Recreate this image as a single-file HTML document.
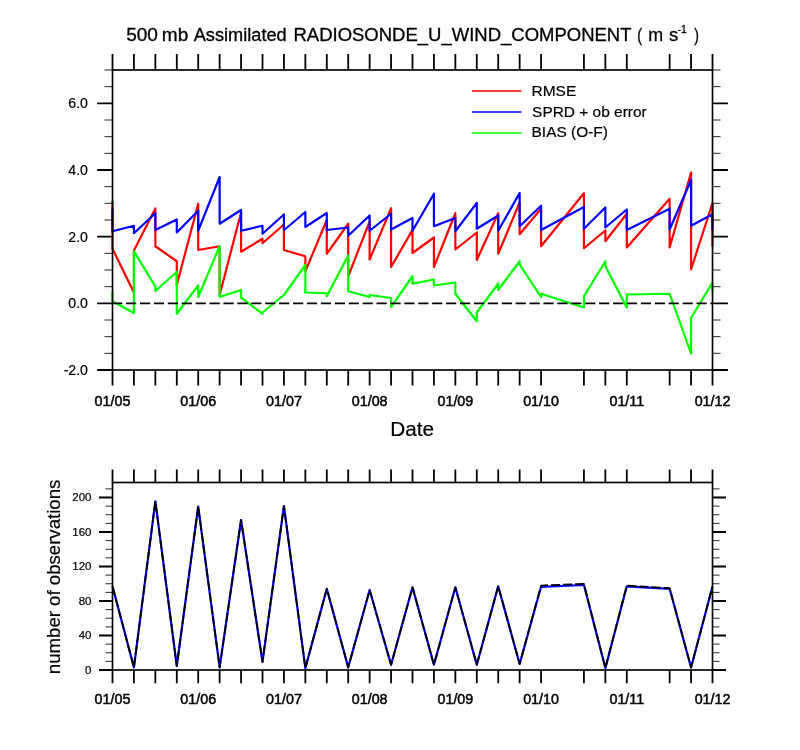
<!DOCTYPE html>
<html lang="en"><head><meta charset="utf-8"><title>500 mb Assimilated RADIOSONDE_U_WIND_COMPONENT</title>
<style>
html,body{margin:0;padding:0;background:#fff;}
body{width:800px;height:750px;overflow:hidden;}
svg{display:block;}
text{font-family:"Liberation Sans",sans-serif;fill:#000;}
.ax{stroke:#000;stroke-width:1.65;fill:none;stroke-linecap:butt;}
.mj{stroke:#000;stroke-width:1.8;fill:none;stroke-linecap:butt;}
.mn{stroke:#000;stroke-width:0.85;fill:none;}
.d{fill:none;stroke-width:2.2;stroke-linejoin:round;stroke-linecap:butt;}
.xl{stroke:#000;stroke-width:0.5px;}
.tt{stroke:#000;stroke-width:0.3px;}
.ts{stroke:#000;stroke-width:0.2px;}
</style></head><body>
<svg width="800" height="750" viewBox="0 0 800 750">
<rect x="0" y="0" width="800" height="750" fill="#fff"/>
<text class="tt" transform="translate(126.14 41.10) scale(1.0208 1)" font-size="18.70">500</text>
<text class="tt" transform="translate(161.81 41.10) scale(1.0194 1)" font-size="18.70">mb</text>
<text class="tt" transform="translate(193.70 41.10) scale(0.9731 1)" font-size="18.70">Assimilated</text>
<text class="tt" transform="translate(293.47 41.10) scale(0.9893 1)" font-size="18.70">RADIOSONDE_U_WIND_COMPONENT</text>
<text class="tt" transform="translate(637.20 41.10) scale(0.7741 1)" font-size="18.70">(</text>
<text class="tt" transform="translate(648.19 41.10) scale(0.9549 1)" font-size="18.70">m</text>
<text class="tt" transform="translate(668.89 41.10) scale(0.9901 1)" font-size="18.70">s</text>
<text class="tt" transform="translate(694.29 41.10) scale(0.7538 1)" font-size="18.70">)</text>
<text class="tt" transform="translate(677.53 32.50) scale(0.8848 1)" font-size="11.80">-1</text>
<clipPath id="c1"><rect x="110.50" y="70.00" width="604.00" height="300.00"/></clipPath>
<g clip-path="url(#c1)">
<polyline class="d" stroke="#ff0000" points="112.50,201.25 112.50,248.75 133.93,292.50 133.93,250.50 155.36,208.50 155.36,246.25 176.79,261.25 176.79,285.00 198.21,203.75 198.21,250.00 219.64,246.25 219.64,295.00 241.07,212.50 241.07,251.75 262.50,238.75 262.50,243.25 283.93,224.50 283.93,250.00 305.36,256.25 305.36,271.25 326.79,220.00 326.79,253.75 348.21,223.75 348.21,276.25 369.64,221.50 369.64,259.50 391.07,208.25 391.07,267.00 412.50,230.00 412.50,253.00 433.93,237.50 433.93,267.00 455.36,213.25 455.36,249.50 476.79,232.50 476.79,260.00 498.21,213.25 498.21,253.75 519.64,202.50 519.64,234.25 541.07,208.75 541.07,246.25 583.93,193.25 583.93,248.25 605.36,230.50 605.36,241.25 626.79,213.75 626.79,247.50 669.64,198.75 669.64,247.50 691.07,172.60 691.07,269.50 712.50,203.00 712.50,246.25"/>
<polyline class="d" stroke="#0000ff" points="112.50,208.75 112.50,231.25 133.93,225.75 133.93,233.25 155.36,213.25 155.36,230.00 176.79,219.50 176.79,232.50 198.21,210.75 198.21,230.75 219.64,177.00 219.64,223.75 241.07,210.00 241.07,230.75 262.50,225.75 262.50,233.75 283.93,214.50 283.93,230.25 305.36,212.00 305.36,227.00 326.79,213.00 326.79,230.00 348.21,227.50 348.21,235.75 369.64,215.50 369.64,230.75 391.07,213.75 391.07,229.50 412.50,218.00 412.50,230.75 433.93,193.75 433.93,226.25 455.36,218.00 455.36,231.25 476.79,203.00 476.79,228.75 498.21,215.50 498.21,230.75 519.64,193.00 519.64,226.25 541.07,205.75 541.07,230.00 583.93,207.00 583.93,228.75 605.36,207.50 605.36,227.50 626.79,209.50 626.79,230.00 669.64,208.75 669.64,229.50 691.07,180.00 691.07,225.75 712.50,214.25 712.50,230.00"/>
<polyline class="d" stroke="#00ff00" points="112.50,291.25 112.50,301.25 133.93,313.00 133.93,251.25 155.36,286.50 155.36,291.00 176.79,272.00 176.79,313.75 198.21,285.50 198.21,297.00 219.64,246.25 219.64,297.00 241.07,290.00 241.07,297.50 262.50,313.75 262.50,312.50 283.93,295.00 305.36,265.00 305.36,292.50 326.79,293.25 326.79,296.25 348.21,255.50 348.21,291.25 369.64,297.00 369.64,295.00 391.07,298.00 391.07,307.00 412.50,276.25 412.50,283.75 433.93,279.50 433.93,285.50 455.36,282.50 455.36,293.75 476.79,321.25 476.79,312.50 498.21,283.75 498.21,290.00 519.64,261.25 519.64,264.50 541.07,297.00 541.07,293.75 583.93,307.50 583.93,296.25 605.36,261.25 605.36,266.25 626.79,307.50 626.79,294.50 669.64,293.75 691.07,353.50 691.07,318.00 712.50,282.50 712.50,292.00"/>
</g>
<line x1="112.15" y1="303.33" x2="712.50" y2="303.33" stroke="#000" stroke-width="1.8" stroke-dasharray="10.2 3.713"/>
<rect class="ax" x="112.50" y="70.00" width="600.00" height="300.00"/>
<path class="mj" d="M112.50 70.00V54.00M112.50 370.00V385.50M133.93 70.00V54.00M133.93 370.00V385.50M155.36 70.00V54.00M155.36 370.00V385.50M176.79 70.00V54.00M176.79 370.00V385.50M198.21 70.00V54.00M198.21 370.00V385.50M219.64 70.00V54.00M219.64 370.00V385.50M241.07 70.00V54.00M241.07 370.00V385.50M262.50 70.00V54.00M262.50 370.00V385.50M283.93 70.00V54.00M283.93 370.00V385.50M305.36 70.00V54.00M305.36 370.00V385.50M326.79 70.00V54.00M326.79 370.00V385.50M348.21 70.00V54.00M348.21 370.00V385.50M369.64 70.00V54.00M369.64 370.00V385.50M391.07 70.00V54.00M391.07 370.00V385.50M412.50 70.00V54.00M412.50 370.00V385.50M433.93 70.00V54.00M433.93 370.00V385.50M455.36 70.00V54.00M455.36 370.00V385.50M476.79 70.00V54.00M476.79 370.00V385.50M498.21 70.00V54.00M498.21 370.00V385.50M519.64 70.00V54.00M519.64 370.00V385.50M541.07 70.00V54.00M541.07 370.00V385.50M583.93 70.00V54.00M583.93 370.00V385.50M605.36 70.00V54.00M605.36 370.00V385.50M626.79 70.00V54.00M626.79 370.00V385.50M669.64 70.00V54.00M669.64 370.00V385.50M691.07 70.00V54.00M691.07 370.00V385.50M712.50 70.00V54.00M712.50 370.00V385.50"/>
<path class="mj" d="M112.50 103.33H97.10M712.50 103.33H727.90M112.50 170.00H97.10M712.50 170.00H727.90M112.50 236.67H97.10M712.50 236.67H727.90M112.50 303.33H97.10M712.50 303.33H727.90M112.50 370.00H97.10M712.50 370.00H727.90"/>
<path class="mn" d="M112.50 70.00H104.50M712.50 70.00H720.50M112.50 86.67H104.50M712.50 86.67H720.50M112.50 120.00H104.50M712.50 120.00H720.50M112.50 136.67H104.50M712.50 136.67H720.50M112.50 153.33H104.50M712.50 153.33H720.50M112.50 186.67H104.50M712.50 186.67H720.50M112.50 203.33H104.50M712.50 203.33H720.50M112.50 220.00H104.50M712.50 220.00H720.50M112.50 253.33H104.50M712.50 253.33H720.50M112.50 270.00H104.50M712.50 270.00H720.50M112.50 286.67H104.50M712.50 286.67H720.50M112.50 320.00H104.50M712.50 320.00H720.50M112.50 336.67H104.50M712.50 336.67H720.50M112.50 353.33H104.50M712.50 353.33H720.50"/>
<text class="ts" x="68.33" y="108.43" font-size="14.10">6.0</text>
<text class="ts" x="68.33" y="175.10" font-size="14.10">4.0</text>
<text class="ts" x="68.33" y="241.77" font-size="14.10">2.0</text>
<text class="ts" x="68.33" y="308.43" font-size="14.10">0.0</text>
<text class="ts" x="63.64" y="375.10" font-size="14.10">-2.0</text>
<text class="xl" x="94.61" y="405.70" font-size="14.30">01/05</text>
<text class="xl" x="180.34" y="405.70" font-size="14.30">01/06</text>
<text class="xl" x="266.11" y="405.70" font-size="14.30">01/07</text>
<text class="xl" x="351.77" y="405.70" font-size="14.30">01/08</text>
<text class="xl" x="437.50" y="405.70" font-size="14.30">01/09</text>
<text class="xl" x="523.16" y="405.70" font-size="14.30">01/10</text>
<text class="xl" x="609.48" y="405.70" font-size="14.30">01/11</text>
<text class="xl" x="694.68" y="405.70" font-size="14.30">01/12</text>
<text class="ts" transform="translate(390.19 436.30) scale(1.0027 1)" font-size="20.70">Date</text>
<line x1="472" y1="91.0" x2="521.5" y2="91.0" stroke="#ff0000" stroke-width="1.5"/>
<text class="ts" x="531.52" y="96.20" font-size="15.50">RMSE</text>
<line x1="472" y1="112.0" x2="521.5" y2="112.0" stroke="#0000ff" stroke-width="1.5"/>
<text class="ts" transform="translate(532.10 117.40) scale(0.9967 1)" font-size="15.50">SPRD + ob error</text>
<line x1="472" y1="133.0" x2="521.5" y2="133.0" stroke="#00ff00" stroke-width="1.5"/>
<text class="ts" transform="translate(531.52 136.60) scale(0.9987 1)" font-size="15.50">BIAS (O-F)</text>
<polyline class="d" stroke="#0000ff" points="112.50,586.30 133.93,667.40 155.36,501.30 176.79,666.00 198.21,506.50 219.64,667.40 241.07,520.00 262.50,661.80 283.93,506.00 305.36,668.10 326.79,588.80 348.21,667.40 369.64,590.00 391.07,664.80 412.50,587.30 433.93,664.80 455.36,587.30 476.79,664.80 498.21,586.20 519.64,664.00 541.07,586.80 583.93,585.00 605.36,668.10 626.79,586.30 669.64,588.80 691.07,667.50 712.50,586.50"/>
<polyline class="d" stroke="#000" stroke-dasharray="9.2 2.9" style="stroke-width:1.75" points="112.50,586.30 133.93,667.40 155.36,501.30 176.79,666.00 198.21,506.50 219.64,667.40 241.07,520.00 262.50,661.80 283.93,506.00 305.36,668.10 326.79,588.80 348.21,667.40 369.64,590.00 391.07,664.80 412.50,587.30 433.93,664.80 455.36,587.30 476.79,664.80 498.21,586.20 519.64,664.00 541.07,585.50 583.93,583.90 605.36,668.10 626.79,585.60 669.64,588.20 691.07,667.50 712.50,586.50"/>
<rect class="ax" x="112.50" y="482.50" width="600.00" height="187.50"/>
<path class="mj" d="M112.50 482.50V469.50M112.50 670.00V683.30M133.93 482.50V469.50M133.93 670.00V683.30M155.36 482.50V469.50M155.36 670.00V683.30M176.79 482.50V469.50M176.79 670.00V683.30M198.21 482.50V469.50M198.21 670.00V683.30M219.64 482.50V469.50M219.64 670.00V683.30M241.07 482.50V469.50M241.07 670.00V683.30M262.50 482.50V469.50M262.50 670.00V683.30M283.93 482.50V469.50M283.93 670.00V683.30M305.36 482.50V469.50M305.36 670.00V683.30M326.79 482.50V469.50M326.79 670.00V683.30M348.21 482.50V469.50M348.21 670.00V683.30M369.64 482.50V469.50M369.64 670.00V683.30M391.07 482.50V469.50M391.07 670.00V683.30M412.50 482.50V469.50M412.50 670.00V683.30M433.93 482.50V469.50M433.93 670.00V683.30M455.36 482.50V469.50M455.36 670.00V683.30M476.79 482.50V469.50M476.79 670.00V683.30M498.21 482.50V469.50M498.21 670.00V683.30M519.64 482.50V469.50M519.64 670.00V683.30M541.07 482.50V469.50M541.07 670.00V683.30M583.93 482.50V469.50M583.93 670.00V683.30M605.36 482.50V469.50M605.36 670.00V683.30M626.79 482.50V469.50M626.79 670.00V683.30M669.64 482.50V469.50M669.64 670.00V683.30M691.07 482.50V469.50M691.07 670.00V683.30M712.50 482.50V469.50M712.50 670.00V683.30"/>
<path class="mj" d="M112.50 670.00H99.00M712.50 670.00H726.00M112.50 635.50H99.00M712.50 635.50H726.00M112.50 601.00H99.00M712.50 601.00H726.00M112.50 566.50H99.00M712.50 566.50H726.00M112.50 532.00H99.00M712.50 532.00H726.00M112.50 497.50H99.00M712.50 497.50H726.00"/>
<path class="mn" d="M112.50 661.38H105.50M712.50 661.38H719.50M112.50 652.75H105.50M712.50 652.75H719.50M112.50 644.12H105.50M712.50 644.12H719.50M112.50 626.88H105.50M712.50 626.88H719.50M112.50 618.25H105.50M712.50 618.25H719.50M112.50 609.62H105.50M712.50 609.62H719.50M112.50 592.38H105.50M712.50 592.38H719.50M112.50 583.75H105.50M712.50 583.75H719.50M112.50 575.12H105.50M712.50 575.12H719.50M112.50 557.88H105.50M712.50 557.88H719.50M112.50 549.25H105.50M712.50 549.25H719.50M112.50 540.62H105.50M712.50 540.62H719.50M112.50 523.38H105.50M712.50 523.38H719.50M112.50 514.75H105.50M712.50 514.75H719.50M112.50 506.12H105.50M712.50 506.12H719.50M112.50 488.88H105.50M712.50 488.88H719.50"/>
<text class="ts" x="85.05" y="673.70" font-size="11.50">0</text>
<text class="ts" x="78.67" y="639.20" font-size="11.50">40</text>
<text class="ts" x="78.67" y="604.70" font-size="11.50">80</text>
<text class="ts" x="72.25" y="570.20" font-size="11.50">120</text>
<text class="ts" x="72.25" y="535.70" font-size="11.50">160</text>
<text class="ts" x="72.25" y="501.20" font-size="11.50">200</text>
<text class="xl" x="94.61" y="704.30" font-size="14.30">01/05</text>
<text class="xl" x="180.34" y="704.30" font-size="14.30">01/06</text>
<text class="xl" x="266.11" y="704.30" font-size="14.30">01/07</text>
<text class="xl" x="351.77" y="704.30" font-size="14.30">01/08</text>
<text class="xl" x="437.50" y="704.30" font-size="14.30">01/09</text>
<text class="xl" x="523.16" y="704.30" font-size="14.30">01/10</text>
<text class="xl" x="609.48" y="704.30" font-size="14.30">01/11</text>
<text class="xl" x="694.68" y="704.30" font-size="14.30">01/12</text>
<text class="ts" transform="translate(60.0 674.16) rotate(-90)" font-size="18.61">number of observations</text>
</svg>
</body></html>
